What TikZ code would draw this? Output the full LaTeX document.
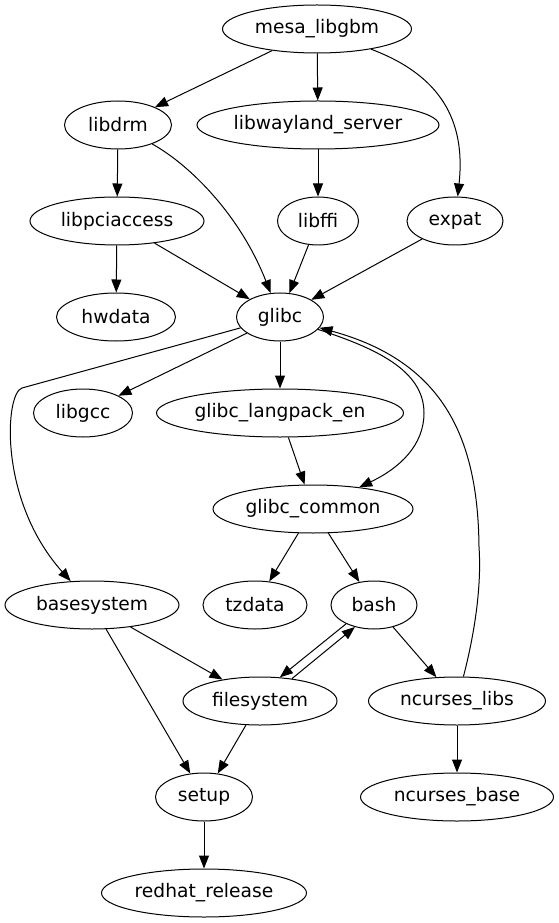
\documentclass[tikz,border=0pt]{standalone}
\usepackage{fontspec}
\setmainfont{DejaVu Sans}
\usetikzlibrary{arrows.meta,shapes.geometric}
\begin{document}
\begin{tikzpicture}[x=0.75pt,y=-0.75pt,
  nd/.style={draw, ellipse, line width=0.75pt, inner sep=0pt, minimum height=36pt,
    font=\fontsize{14pt}{16pt}\selectfont},
  arr/.style={-{Triangle[length=9.75pt,width=7.5pt]}, line width=0.75pt}]
\useasboundingbox (0,0) rectangle (559,923);
% nodes
\node[nd, minimum width=141.75pt] (mesa) at (317,29) {mesa\_libgbm};
\node[nd, minimum width=80.25pt] (libdrm) at (118,125) {libdrm};
\node[nd, minimum width=181.5pt] (wayland) at (318,125) {libwayland\_server};
\node[nd, minimum width=130.5pt] (pci) at (117,221) {libpciaccess};
\node[nd, minimum width=60.75pt] (ffi) at (318,221) {libffi};
\node[nd, minimum width=72pt] (expat) at (455,221) {expat};
\node[nd, minimum width=89.25pt] (hwdata) at (116,317) {hwdata};
\node[nd, minimum width=65.25pt] (glibc) at (280,317) {glibc};
\node[nd, minimum width=74.25pt] (libgcc) at (83,413) {libgcc};
\node[nd, minimum width=185.25pt] (langpack) at (280,413) {glibc\_langpack\_en};
\node[nd, minimum width=150pt] (common) at (313,509) {glibc\_common};
\node[nd, minimum width=130.5pt] (basesys) at (92,605) {basesystem};
\node[nd, minimum width=78pt] (tzdata) at (255,605) {tzdata};
\node[nd, minimum width=64.5pt] (bash) at (374,605) {bash};
\node[nd, minimum width=115.5pt] (filesys) at (260,701) {filesystem};
\node[nd, minimum width=132.75pt] (nclibs) at (457,701) {ncurses\_libs};
\node[nd, minimum width=72.75pt] (setup) at (204,797) {setup};
\node[nd, minimum width=144.75pt] (ncbase) at (457,797) {ncurses\_base};
\node[nd, minimum width=153.75pt] (redhat) at (204,893) {redhat\_release};
% helper coordinates
\coordinate (bendbase) at (22,388);
\coordinate (midcommon) at (424,413);
\coordinate (midnc) at (479,547);
% edges
\draw[arr] (mesa) -- (libdrm);
\draw[arr] (mesa) -- (wayland);
\draw[arr] (mesa) .. controls (440,75) and (466,120) .. (expat);
\draw[arr] (libdrm) -- (pci);
\draw[arr] (libdrm) .. controls (190,165) and (240,215) .. (glibc);
\draw[arr] (wayland) -- (ffi);
\draw[arr] (pci) -- (hwdata);
\draw[arr] (pci) -- (glibc);
\draw[arr] (ffi) -- (glibc);
\draw[arr] (expat) -- (glibc);
\draw[arr] (glibc) -- (libgcc);
\draw[arr] (glibc) -- (langpack);
\draw[arr] (glibc) -- (bendbase) .. controls (5,393) and (-2,500) .. (basesys);
\draw[arr] (glibc) .. controls (375,348) and (424,370) .. (midcommon)
  .. controls (424,445) and (400,468) .. (common);
\draw[arr] (langpack) -- (common);
\draw[arr] (common) -- (tzdata);
\draw[arr] (common) -- (bash);
\draw[arr] (basesys) -- (filesys);
\draw[arr] (basesys) -- (setup);
\draw[arr] (filesys) -- (setup);
\draw[arr] (bash.214) -- (filesys.50);
\draw[arr] (filesys.35) -- (bash.229);
\draw[arr] (bash) -- (nclibs);
\draw[arr] (nclibs) .. controls (473,640) and (482,590) .. (midnc)
  .. controls (478,440) and (445,362) .. (glibc);
\draw[arr] (nclibs) -- (ncbase);
\draw[arr] (setup) -- (redhat);
\end{tikzpicture}
\end{document}
